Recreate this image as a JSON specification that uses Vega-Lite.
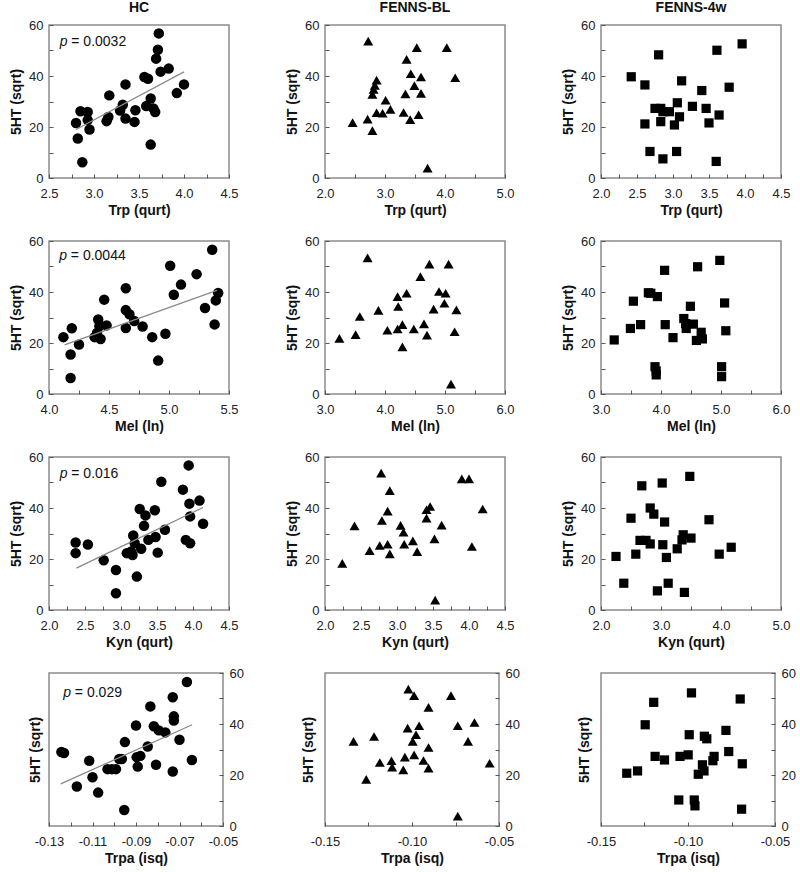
{
"$schema":"https://vega.github.io/schema/vega-lite/v6.json",
"background":"white",
"padding":{"left":8,"right":5,"top":0,"bottom":2},
"bounds":"flush",
"columns":3,
"spacing":{"row":63,"column":96},
"datasets":{
"pts":[
{"g":"HC","v":"Trp","x":2.80,"y":21.6},{"g":"HC","v":"Trp","x":2.85,"y":26.2},{"g":"HC","v":"Trp","x":2.93,"y":25.9},{"g":"HC","v":"Trp","x":2.93,"y":22.7},{"g":"HC","v":"Trp","x":2.95,"y":19.0},{"g":"HC","v":"Trp","x":2.82,"y":15.5},{"g":"HC","v":"Trp","x":2.87,"y":6.2},{"g":"HC","v":"Trp","x":3.14,"y":22.3},{"g":"HC","v":"Trp","x":3.16,"y":23.9},{"g":"HC","v":"Trp","x":3.17,"y":32.4},{"g":"HC","v":"Trp","x":3.29,"y":26.5},{"g":"HC","v":"Trp","x":3.32,"y":28.7},{"g":"HC","v":"Trp","x":3.35,"y":23.3},{"g":"HC","v":"Trp","x":3.35,"y":36.7},{"g":"HC","v":"Trp","x":3.45,"y":22.0},{"g":"HC","v":"Trp","x":3.46,"y":26.6},{"g":"HC","v":"Trp","x":3.56,"y":39.6},{"g":"HC","v":"Trp","x":3.60,"y":38.9},{"g":"HC","v":"Trp","x":3.58,"y":28.2},{"g":"HC","v":"Trp","x":3.63,"y":31.2},{"g":"HC","v":"Trp","x":3.63,"y":13.1},{"g":"HC","v":"Trp","x":3.66,"y":27.3},{"g":"HC","v":"Trp","x":3.68,"y":25.9},{"g":"HC","v":"Trp","x":3.69,"y":46.8},{"g":"HC","v":"Trp","x":3.71,"y":50.3},{"g":"HC","v":"Trp","x":3.72,"y":56.7},{"g":"HC","v":"Trp","x":3.74,"y":41.7},{"g":"HC","v":"Trp","x":3.83,"y":42.9},{"g":"HC","v":"Trp","x":3.92,"y":33.3},{"g":"HC","v":"Trp","x":4.00,"y":36.7},
{"g":"BL","v":"Trp","x":2.46,"y":21.7},{"g":"BL","v":"Trp","x":2.72,"y":53.7},{"g":"BL","v":"Trp","x":2.71,"y":23.1},{"g":"BL","v":"Trp","x":2.79,"y":18.6},{"g":"BL","v":"Trp","x":2.79,"y":32.8},{"g":"BL","v":"Trp","x":2.81,"y":34.7},{"g":"BL","v":"Trp","x":2.83,"y":36.3},{"g":"BL","v":"Trp","x":2.86,"y":38.4},{"g":"BL","v":"Trp","x":2.86,"y":25.6},{"g":"BL","v":"Trp","x":2.96,"y":25.4},{"g":"BL","v":"Trp","x":3.01,"y":30.5},{"g":"BL","v":"Trp","x":3.09,"y":26.9},{"g":"BL","v":"Trp","x":3.31,"y":25.7},{"g":"BL","v":"Trp","x":3.34,"y":33.0},{"g":"BL","v":"Trp","x":3.36,"y":46.5},{"g":"BL","v":"Trp","x":3.42,"y":22.9},{"g":"BL","v":"Trp","x":3.43,"y":40.9},{"g":"BL","v":"Trp","x":3.49,"y":36.2},{"g":"BL","v":"Trp","x":3.53,"y":51.1},{"g":"BL","v":"Trp","x":3.56,"y":24.8},{"g":"BL","v":"Trp","x":3.60,"y":39.6},{"g":"BL","v":"Trp","x":3.60,"y":33.2},{"g":"BL","v":"Trp","x":3.71,"y":3.9},{"g":"BL","v":"Trp","x":4.03,"y":51.1},{"g":"BL","v":"Trp","x":4.17,"y":39.3},
{"g":"W4","v":"Trp","x":2.42,"y":39.7},{"g":"W4","v":"Trp","x":2.61,"y":36.5},{"g":"W4","v":"Trp","x":2.61,"y":21.2},{"g":"W4","v":"Trp","x":2.68,"y":10.4},{"g":"W4","v":"Trp","x":2.80,"y":48.3},{"g":"W4","v":"Trp","x":2.75,"y":27.3},{"g":"W4","v":"Trp","x":2.83,"y":27.3},{"g":"W4","v":"Trp","x":2.86,"y":26.0},{"g":"W4","v":"Trp","x":2.83,"y":22.1},{"g":"W4","v":"Trp","x":2.86,"y":7.5},{"g":"W4","v":"Trp","x":2.95,"y":26.0},{"g":"W4","v":"Trp","x":3.02,"y":20.8},{"g":"W4","v":"Trp","x":3.05,"y":10.4},{"g":"W4","v":"Trp","x":3.06,"y":29.5},{"g":"W4","v":"Trp","x":3.09,"y":24.0},{"g":"W4","v":"Trp","x":3.12,"y":38.1},{"g":"W4","v":"Trp","x":3.27,"y":28.1},{"g":"W4","v":"Trp","x":3.40,"y":34.3},{"g":"W4","v":"Trp","x":3.46,"y":27.3},{"g":"W4","v":"Trp","x":3.50,"y":21.6},{"g":"W4","v":"Trp","x":3.61,"y":50.1},{"g":"W4","v":"Trp","x":3.60,"y":6.5},{"g":"W4","v":"Trp","x":3.64,"y":24.7},{"g":"W4","v":"Trp","x":3.78,"y":35.6},{"g":"W4","v":"Trp","x":3.96,"y":52.6},
{"g":"HC","v":"Mel","x":4.12,"y":22.3},{"g":"HC","v":"Mel","x":4.18,"y":15.5},{"g":"HC","v":"Mel","x":4.18,"y":6.3},{"g":"HC","v":"Mel","x":4.19,"y":25.8},{"g":"HC","v":"Mel","x":4.25,"y":19.4},{"g":"HC","v":"Mel","x":4.38,"y":22.3},{"g":"HC","v":"Mel","x":4.40,"y":23.9},{"g":"HC","v":"Mel","x":4.41,"y":29.2},{"g":"HC","v":"Mel","x":4.43,"y":21.6},{"g":"HC","v":"Mel","x":4.42,"y":26.6},{"g":"HC","v":"Mel","x":4.46,"y":37.0},{"g":"HC","v":"Mel","x":4.48,"y":26.9},{"g":"HC","v":"Mel","x":4.64,"y":41.5},{"g":"HC","v":"Mel","x":4.64,"y":32.9},{"g":"HC","v":"Mel","x":4.64,"y":25.9},{"g":"HC","v":"Mel","x":4.67,"y":31.3},{"g":"HC","v":"Mel","x":4.71,"y":28.6},{"g":"HC","v":"Mel","x":4.78,"y":26.5},{"g":"HC","v":"Mel","x":4.86,"y":22.3},{"g":"HC","v":"Mel","x":4.91,"y":13.1},{"g":"HC","v":"Mel","x":4.97,"y":23.6},{"g":"HC","v":"Mel","x":5.01,"y":50.3},{"g":"HC","v":"Mel","x":5.04,"y":38.9},{"g":"HC","v":"Mel","x":5.10,"y":42.9},{"g":"HC","v":"Mel","x":5.23,"y":47.0},{"g":"HC","v":"Mel","x":5.30,"y":33.7},{"g":"HC","v":"Mel","x":5.36,"y":56.6},{"g":"HC","v":"Mel","x":5.38,"y":27.3},{"g":"HC","v":"Mel","x":5.39,"y":36.7},{"g":"HC","v":"Mel","x":5.41,"y":39.6},
{"g":"BL","v":"Mel","x":3.24,"y":21.8},{"g":"BL","v":"Mel","x":3.51,"y":23.3},{"g":"BL","v":"Mel","x":3.58,"y":30.4},{"g":"BL","v":"Mel","x":3.71,"y":53.4},{"g":"BL","v":"Mel","x":3.89,"y":32.8},{"g":"BL","v":"Mel","x":4.04,"y":25.0},{"g":"BL","v":"Mel","x":4.21,"y":38.2},{"g":"BL","v":"Mel","x":4.22,"y":34.3},{"g":"BL","v":"Mel","x":4.21,"y":25.5},{"g":"BL","v":"Mel","x":4.29,"y":27.2},{"g":"BL","v":"Mel","x":4.29,"y":18.5},{"g":"BL","v":"Mel","x":4.36,"y":39.5},{"g":"BL","v":"Mel","x":4.48,"y":25.5},{"g":"BL","v":"Mel","x":4.59,"y":46.0},{"g":"BL","v":"Mel","x":4.65,"y":27.5},{"g":"BL","v":"Mel","x":4.70,"y":23.1},{"g":"BL","v":"Mel","x":4.74,"y":50.9},{"g":"BL","v":"Mel","x":4.81,"y":33.3},{"g":"BL","v":"Mel","x":4.90,"y":40.2},{"g":"BL","v":"Mel","x":5.01,"y":39.5},{"g":"BL","v":"Mel","x":4.99,"y":35.6},{"g":"BL","v":"Mel","x":5.06,"y":50.9},{"g":"BL","v":"Mel","x":5.16,"y":24.4},{"g":"BL","v":"Mel","x":5.19,"y":33.0},{"g":"BL","v":"Mel","x":5.10,"y":3.9},
{"g":"W4","v":"Mel","x":3.22,"y":21.2},{"g":"W4","v":"Mel","x":3.49,"y":25.7},{"g":"W4","v":"Mel","x":3.54,"y":36.4},{"g":"W4","v":"Mel","x":3.66,"y":27.2},{"g":"W4","v":"Mel","x":3.79,"y":39.7},{"g":"W4","v":"Mel","x":3.83,"y":39.5},{"g":"W4","v":"Mel","x":3.94,"y":38.2},{"g":"W4","v":"Mel","x":3.90,"y":10.7},{"g":"W4","v":"Mel","x":3.92,"y":9.0},{"g":"W4","v":"Mel","x":3.92,"y":7.5},{"g":"W4","v":"Mel","x":4.06,"y":48.5},{"g":"W4","v":"Mel","x":4.07,"y":27.2},{"g":"W4","v":"Mel","x":4.20,"y":22.1},{"g":"W4","v":"Mel","x":4.38,"y":29.6},{"g":"W4","v":"Mel","x":4.41,"y":27.6},{"g":"W4","v":"Mel","x":4.42,"y":25.7},{"g":"W4","v":"Mel","x":4.49,"y":34.4},{"g":"W4","v":"Mel","x":4.54,"y":27.4},{"g":"W4","v":"Mel","x":4.61,"y":49.9},{"g":"W4","v":"Mel","x":4.59,"y":21.0},{"g":"W4","v":"Mel","x":4.67,"y":24.2},{"g":"W4","v":"Mel","x":4.69,"y":21.6},{"g":"W4","v":"Mel","x":4.98,"y":52.4},{"g":"W4","v":"Mel","x":5.01,"y":10.7},{"g":"W4","v":"Mel","x":5.01,"y":6.8},{"g":"W4","v":"Mel","x":5.06,"y":35.7},{"g":"W4","v":"Mel","x":5.08,"y":24.8},
{"g":"HC","v":"Kyn","x":2.37,"y":26.5},{"g":"HC","v":"Kyn","x":2.37,"y":22.3},{"g":"HC","v":"Kyn","x":2.54,"y":25.7},{"g":"HC","v":"Kyn","x":2.76,"y":19.5},{"g":"HC","v":"Kyn","x":2.93,"y":15.7},{"g":"HC","v":"Kyn","x":2.93,"y":6.6},{"g":"HC","v":"Kyn","x":3.08,"y":22.3},{"g":"HC","v":"Kyn","x":3.14,"y":22.9},{"g":"HC","v":"Kyn","x":3.16,"y":21.6},{"g":"HC","v":"Kyn","x":3.17,"y":29.2},{"g":"HC","v":"Kyn","x":3.19,"y":26.2},{"g":"HC","v":"Kyn","x":3.22,"y":13.1},{"g":"HC","v":"Kyn","x":3.26,"y":39.6},{"g":"HC","v":"Kyn","x":3.28,"y":24.0},{"g":"HC","v":"Kyn","x":3.32,"y":33.0},{"g":"HC","v":"Kyn","x":3.34,"y":37.1},{"g":"HC","v":"Kyn","x":3.38,"y":27.5},{"g":"HC","v":"Kyn","x":3.47,"y":39.1},{"g":"HC","v":"Kyn","x":3.48,"y":28.6},{"g":"HC","v":"Kyn","x":3.51,"y":22.5},{"g":"HC","v":"Kyn","x":3.56,"y":50.3},{"g":"HC","v":"Kyn","x":3.61,"y":31.5},{"g":"HC","v":"Kyn","x":3.86,"y":47.2},{"g":"HC","v":"Kyn","x":3.90,"y":27.5},{"g":"HC","v":"Kyn","x":3.94,"y":56.7},{"g":"HC","v":"Kyn","x":3.95,"y":41.7},{"g":"HC","v":"Kyn","x":3.96,"y":36.7},{"g":"HC","v":"Kyn","x":3.96,"y":26.2},{"g":"HC","v":"Kyn","x":4.09,"y":42.9},{"g":"HC","v":"Kyn","x":4.14,"y":33.8},
{"g":"BL","v":"Kyn","x":2.24,"y":18.3},{"g":"BL","v":"Kyn","x":2.41,"y":33.0},{"g":"BL","v":"Kyn","x":2.62,"y":23.3},{"g":"BL","v":"Kyn","x":2.76,"y":25.3},{"g":"BL","v":"Kyn","x":2.78,"y":53.7},{"g":"BL","v":"Kyn","x":2.79,"y":35.1},{"g":"BL","v":"Kyn","x":2.87,"y":38.8},{"g":"BL","v":"Kyn","x":2.87,"y":25.8},{"g":"BL","v":"Kyn","x":2.90,"y":46.8},{"g":"BL","v":"Kyn","x":2.90,"y":22.0},{"g":"BL","v":"Kyn","x":3.05,"y":33.2},{"g":"BL","v":"Kyn","x":3.09,"y":30.5},{"g":"BL","v":"Kyn","x":3.10,"y":25.8},{"g":"BL","v":"Kyn","x":3.22,"y":27.1},{"g":"BL","v":"Kyn","x":3.28,"y":22.9},{"g":"BL","v":"Kyn","x":3.41,"y":39.3},{"g":"BL","v":"Kyn","x":3.46,"y":40.6},{"g":"BL","v":"Kyn","x":3.41,"y":36.0},{"g":"BL","v":"Kyn","x":3.52,"y":27.9},{"g":"BL","v":"Kyn","x":3.53,"y":3.9},{"g":"BL","v":"Kyn","x":3.62,"y":33.3},{"g":"BL","v":"Kyn","x":3.90,"y":51.4},{"g":"BL","v":"Kyn","x":4.00,"y":51.4},{"g":"BL","v":"Kyn","x":4.04,"y":24.9},{"g":"BL","v":"Kyn","x":4.19,"y":39.6},
{"g":"W4","v":"Kyn","x":2.25,"y":21.0},{"g":"W4","v":"Kyn","x":2.38,"y":10.5},{"g":"W4","v":"Kyn","x":2.50,"y":36.0},{"g":"W4","v":"Kyn","x":2.58,"y":21.9},{"g":"W4","v":"Kyn","x":2.65,"y":27.3},{"g":"W4","v":"Kyn","x":2.68,"y":48.7},{"g":"W4","v":"Kyn","x":2.75,"y":27.3},{"g":"W4","v":"Kyn","x":2.82,"y":25.9},{"g":"W4","v":"Kyn","x":2.82,"y":40.0},{"g":"W4","v":"Kyn","x":2.88,"y":37.6},{"g":"W4","v":"Kyn","x":2.94,"y":7.5},{"g":"W4","v":"Kyn","x":3.02,"y":49.8},{"g":"W4","v":"Kyn","x":3.03,"y":25.6},{"g":"W4","v":"Kyn","x":3.06,"y":34.5},{"g":"W4","v":"Kyn","x":3.09,"y":20.6},{"g":"W4","v":"Kyn","x":3.12,"y":10.5},{"g":"W4","v":"Kyn","x":3.27,"y":24.0},{"g":"W4","v":"Kyn","x":3.35,"y":27.5},{"g":"W4","v":"Kyn","x":3.37,"y":29.5},{"g":"W4","v":"Kyn","x":3.39,"y":6.9},{"g":"W4","v":"Kyn","x":3.48,"y":52.4},{"g":"W4","v":"Kyn","x":3.50,"y":28.2},{"g":"W4","v":"Kyn","x":3.80,"y":35.4},{"g":"W4","v":"Kyn","x":3.97,"y":21.9},{"g":"W4","v":"Kyn","x":4.17,"y":24.6},
{"g":"HC","v":"Trpa","x":-0.1243,"y":29.0},{"g":"HC","v":"Trpa","x":-0.1231,"y":28.6},{"g":"HC","v":"Trpa","x":-0.1172,"y":15.5},{"g":"HC","v":"Trpa","x":-0.1115,"y":25.6},{"g":"HC","v":"Trpa","x":-0.1100,"y":19.1},{"g":"HC","v":"Trpa","x":-0.1074,"y":13.1},{"g":"HC","v":"Trpa","x":-0.1031,"y":22.3},{"g":"HC","v":"Trpa","x":-0.1011,"y":22.3},{"g":"HC","v":"Trpa","x":-0.0992,"y":22.3},{"g":"HC","v":"Trpa","x":-0.0977,"y":26.3},{"g":"HC","v":"Trpa","x":-0.0965,"y":26.3},{"g":"HC","v":"Trpa","x":-0.0954,"y":6.3},{"g":"HC","v":"Trpa","x":-0.0951,"y":32.9},{"g":"HC","v":"Trpa","x":-0.0900,"y":39.4},{"g":"HC","v":"Trpa","x":-0.0897,"y":27.0},{"g":"HC","v":"Trpa","x":-0.0892,"y":23.3},{"g":"HC","v":"Trpa","x":-0.0880,"y":27.5},{"g":"HC","v":"Trpa","x":-0.0846,"y":31.2},{"g":"HC","v":"Trpa","x":-0.0834,"y":46.9},{"g":"HC","v":"Trpa","x":-0.0818,"y":39.1},{"g":"HC","v":"Trpa","x":-0.0808,"y":24.0},{"g":"HC","v":"Trpa","x":-0.0795,"y":37.5},{"g":"HC","v":"Trpa","x":-0.0765,"y":36.7},{"g":"HC","v":"Trpa","x":-0.0731,"y":50.5},{"g":"HC","v":"Trpa","x":-0.0726,"y":43.0},{"g":"HC","v":"Trpa","x":-0.0726,"y":41.4},{"g":"HC","v":"Trpa","x":-0.0731,"y":21.4},{"g":"HC","v":"Trpa","x":-0.0700,"y":33.8},{"g":"HC","v":"Trpa","x":-0.0666,"y":56.5},{"g":"HC","v":"Trpa","x":-0.0643,"y":25.9},
{"g":"BL","v":"Trpa","x":-0.1336,"y":33.2},{"g":"BL","v":"Trpa","x":-0.1263,"y":18.3},{"g":"BL","v":"Trpa","x":-0.1218,"y":35.1},{"g":"BL","v":"Trpa","x":-0.1185,"y":24.9},{"g":"BL","v":"Trpa","x":-0.1118,"y":25.6},{"g":"BL","v":"Trpa","x":-0.1114,"y":23.1},{"g":"BL","v":"Trpa","x":-0.1050,"y":22.0},{"g":"BL","v":"Trpa","x":-0.1041,"y":27.0},{"g":"BL","v":"Trpa","x":-0.1021,"y":53.7},{"g":"BL","v":"Trpa","x":-0.1025,"y":38.4},{"g":"BL","v":"Trpa","x":-0.0988,"y":51.1},{"g":"BL","v":"Trpa","x":-0.0996,"y":33.2},{"g":"BL","v":"Trpa","x":-0.0988,"y":27.9},{"g":"BL","v":"Trpa","x":-0.0977,"y":35.8},{"g":"BL","v":"Trpa","x":-0.0959,"y":39.3},{"g":"BL","v":"Trpa","x":-0.0934,"y":25.7},{"g":"BL","v":"Trpa","x":-0.0905,"y":46.5},{"g":"BL","v":"Trpa","x":-0.0905,"y":30.8},{"g":"BL","v":"Trpa","x":-0.0905,"y":22.7},{"g":"BL","v":"Trpa","x":-0.0776,"y":51.1},{"g":"BL","v":"Trpa","x":-0.0737,"y":39.3},{"g":"BL","v":"Trpa","x":-0.0737,"y":3.9},{"g":"BL","v":"Trpa","x":-0.0678,"y":33.2},{"g":"BL","v":"Trpa","x":-0.0641,"y":40.6},{"g":"BL","v":"Trpa","x":-0.0554,"y":24.6},
{"g":"W4","v":"Trpa","x":-0.1352,"y":20.7},{"g":"W4","v":"Trpa","x":-0.1290,"y":21.6},{"g":"W4","v":"Trpa","x":-0.1246,"y":39.7},{"g":"W4","v":"Trpa","x":-0.1197,"y":48.5},{"g":"W4","v":"Trpa","x":-0.1189,"y":27.3},{"g":"W4","v":"Trpa","x":-0.1135,"y":25.9},{"g":"W4","v":"Trpa","x":-0.1053,"y":10.2},{"g":"W4","v":"Trpa","x":-0.1046,"y":27.3},{"g":"W4","v":"Trpa","x":-0.0999,"y":27.9},{"g":"W4","v":"Trpa","x":-0.0993,"y":35.8},{"g":"W4","v":"Trpa","x":-0.0980,"y":52.2},{"g":"W4","v":"Trpa","x":-0.0964,"y":10.2},{"g":"W4","v":"Trpa","x":-0.0960,"y":7.9},{"g":"W4","v":"Trpa","x":-0.0941,"y":20.3},{"g":"W4","v":"Trpa","x":-0.0917,"y":24.0},{"g":"W4","v":"Trpa","x":-0.0908,"y":21.6},{"g":"W4","v":"Trpa","x":-0.0906,"y":35.2},{"g":"W4","v":"Trpa","x":-0.0892,"y":34.2},{"g":"W4","v":"Trpa","x":-0.0857,"y":25.6},{"g":"W4","v":"Trpa","x":-0.0850,"y":27.3},{"g":"W4","v":"Trpa","x":-0.0782,"y":37.5},{"g":"W4","v":"Trpa","x":-0.0766,"y":29.2},{"g":"W4","v":"Trpa","x":-0.0700,"y":49.8},{"g":"W4","v":"Trpa","x":-0.0692,"y":6.6},{"g":"W4","v":"Trpa","x":-0.0688,"y":24.4}
],
"fit":[
{"v":"Trp","x":2.80,"y":19.0},{"v":"Trp","x":4.00,"y":41.6},
{"v":"Mel","x":4.13,"y":19.3},{"v":"Mel","x":5.40,"y":40.6},
{"v":"Kyn","x":2.38,"y":16.4},{"v":"Kyn","x":4.14,"y":40.2},
{"v":"Trpa","x":-0.1246,"y":16.5},{"v":"Trpa","x":-0.0642,"y":39.7}
],
"pv":[
{"v":"Trp","x":2.62,"y":53.5,"t":"= 0.0032"},
{"v":"Mel","x":4.086,"y":54.0,"t":"= 0.0044"},
{"v":"Kyn","x":2.15,"y":53.3,"t":"= 0.016"},
{"v":"Trpa","x":-0.1234,"y":52.2,"t":"= 0.029"}
]
},
"concat":[
{"width":180,"height":153,"title":"HC",
 "encoding":{"x":{"field":"x","type":"quantitative","title":"Trp (qurt)","scale":{"domain":[2.5,4.5],"nice":false,"zero":false},"axis":{"values":[2.5,2.75,3,3.25,3.5,3.75,4,4.25,4.5],"format":".1f","labelExpr":"round(datum.value*100)%50==0?datum.label:''"}},
  "y":{"field":"y","type":"quantitative","title":"5HT (sqrt)","scale":{"domain":[0,60],"nice":false,"zero":false},"axis":{"values":[0,10,20,30,40,50,60],"labelExpr":"datum.value%20==0?datum.label:''"}}},
 "layer":[
 {"data":{"name":"pts"},"transform":[{"filter":"datum.g==='HC'&&datum.v==='Trp'"}],"mark":{"type":"point","shape":"circle","filled":true,"size":110,"color":"#000","opacity":1}},
 {"data":{"name":"fit"},"transform":[{"filter":"datum.v==='Trp'"}],"mark":{"type":"line","color":"#8a8a8a","strokeWidth":1.3}},
 {"data":{"name":"pv"},"transform":[{"filter":"datum.v==='Trp'"}],"mark":{"type":"text","align":"left","baseline":"middle","fontSize":14,"fontStyle":"italic","color":"#111"},"encoding":{"text":{"value":"p"}}},
 {"data":{"name":"pv"},"transform":[{"filter":"datum.v==='Trp'"}],"mark":{"type":"text","align":"left","baseline":"middle","fontSize":14,"dx":11.5,"color":"#111"},"encoding":{"text":{"field":"t"}}}
]},
{"width":180,"height":153,"title":"FENNS-BL","data":{"name":"pts"},"transform":[{"filter":"datum.g==='BL'&&datum.v==='Trp'"}],"mark":{"type":"point","shape":"triangle-up","filled":true,"size":100,"color":"#000","opacity":1},
  "encoding":{"x":{"field":"x","type":"quantitative","title":"Trp (qurt)","scale":{"domain":[2,5],"nice":false,"zero":false},"axis":{"values":[2,2.5,3,3.5,4,4.5,5],"format":".1f","labelExpr":"round(datum.value*100)%100==0?datum.label:''"}},
  "y":{"field":"y","type":"quantitative","title":"5HT (sqrt)","scale":{"domain":[0,60],"nice":false,"zero":false},"axis":{"values":[0,10,20,30,40,50,60],"labelExpr":"datum.value%20==0?datum.label:''"}}}},
{"width":180,"height":153,"title":"FENNS-4w","data":{"name":"pts"},"transform":[{"filter":"datum.g==='W4'&&datum.v==='Trp'"}],"mark":{"type":"point","shape":"square","filled":true,"size":85,"color":"#000","opacity":1},
  "encoding":{"x":{"field":"x","type":"quantitative","title":"Trp (qurt)","scale":{"domain":[2,4.5],"nice":false,"zero":false},"axis":{"values":[2,2.25,2.5,2.75,3,3.25,3.5,3.75,4,4.25,4.5],"format":".1f","labelExpr":"round(datum.value*100)%50==0?datum.label:''"}},
  "y":{"field":"y","type":"quantitative","title":"5HT (sqrt)","scale":{"domain":[0,60],"nice":false,"zero":false},"axis":{"values":[0,10,20,30,40,50,60],"labelExpr":"datum.value%20==0?datum.label:''"}}}},
{"width":180,"height":153,
 "encoding":{"x":{"field":"x","type":"quantitative","title":"Mel (ln)","scale":{"domain":[4,5.5],"nice":false,"zero":false},"axis":{"values":[4,4.25,4.5,4.75,5,5.25,5.5],"format":".1f","labelExpr":"round(datum.value*100)%50==0?datum.label:''"}},
  "y":{"field":"y","type":"quantitative","title":"5HT (sqrt)","scale":{"domain":[0,60],"nice":false,"zero":false},"axis":{"values":[0,10,20,30,40,50,60],"labelExpr":"datum.value%20==0?datum.label:''"}}},
 "layer":[
 {"data":{"name":"pts"},"transform":[{"filter":"datum.g==='HC'&&datum.v==='Mel'"}],"mark":{"type":"point","shape":"circle","filled":true,"size":110,"color":"#000","opacity":1}},
 {"data":{"name":"fit"},"transform":[{"filter":"datum.v==='Mel'"}],"mark":{"type":"line","color":"#8a8a8a","strokeWidth":1.3}},
 {"data":{"name":"pv"},"transform":[{"filter":"datum.v==='Mel'"}],"mark":{"type":"text","align":"left","baseline":"middle","fontSize":14,"fontStyle":"italic","color":"#111"},"encoding":{"text":{"value":"p"}}},
 {"data":{"name":"pv"},"transform":[{"filter":"datum.v==='Mel'"}],"mark":{"type":"text","align":"left","baseline":"middle","fontSize":14,"dx":11.5,"color":"#111"},"encoding":{"text":{"field":"t"}}}
]},
{"width":180,"height":153,"data":{"name":"pts"},"transform":[{"filter":"datum.g==='BL'&&datum.v==='Mel'"}],"mark":{"type":"point","shape":"triangle-up","filled":true,"size":100,"color":"#000","opacity":1},
  "encoding":{"x":{"field":"x","type":"quantitative","title":"Mel (ln)","scale":{"domain":[3,6],"nice":false,"zero":false},"axis":{"values":[3,3.5,4,4.5,5,5.5,6],"format":".1f","labelExpr":"round(datum.value*100)%100==0?datum.label:''"}},
  "y":{"field":"y","type":"quantitative","title":"5HT (sqrt)","scale":{"domain":[0,60],"nice":false,"zero":false},"axis":{"values":[0,10,20,30,40,50,60],"labelExpr":"datum.value%20==0?datum.label:''"}}}},
{"width":180,"height":153,"data":{"name":"pts"},"transform":[{"filter":"datum.g==='W4'&&datum.v==='Mel'"}],"mark":{"type":"point","shape":"square","filled":true,"size":85,"color":"#000","opacity":1},
  "encoding":{"x":{"field":"x","type":"quantitative","title":"Mel (ln)","scale":{"domain":[3,6],"nice":false,"zero":false},"axis":{"values":[3,3.5,4,4.5,5,5.5,6],"format":".1f","labelExpr":"round(datum.value*100)%100==0?datum.label:''"}},
  "y":{"field":"y","type":"quantitative","title":"5HT (sqrt)","scale":{"domain":[0,60],"nice":false,"zero":false},"axis":{"values":[0,10,20,30,40,50,60],"labelExpr":"datum.value%20==0?datum.label:''"}}}},
{"width":180,"height":153,
 "encoding":{"x":{"field":"x","type":"quantitative","title":"Kyn (qurt)","scale":{"domain":[2,4.5],"nice":false,"zero":false},"axis":{"values":[2,2.25,2.5,2.75,3,3.25,3.5,3.75,4,4.25,4.5],"format":".1f","labelExpr":"round(datum.value*100)%50==0?datum.label:''"}},
  "y":{"field":"y","type":"quantitative","title":"5HT (sqrt)","scale":{"domain":[0,60],"nice":false,"zero":false},"axis":{"values":[0,10,20,30,40,50,60],"labelExpr":"datum.value%20==0?datum.label:''"}}},
 "layer":[
 {"data":{"name":"pts"},"transform":[{"filter":"datum.g==='HC'&&datum.v==='Kyn'"}],"mark":{"type":"point","shape":"circle","filled":true,"size":110,"color":"#000","opacity":1}},
 {"data":{"name":"fit"},"transform":[{"filter":"datum.v==='Kyn'"}],"mark":{"type":"line","color":"#8a8a8a","strokeWidth":1.3}},
 {"data":{"name":"pv"},"transform":[{"filter":"datum.v==='Kyn'"}],"mark":{"type":"text","align":"left","baseline":"middle","fontSize":14,"fontStyle":"italic","color":"#111"},"encoding":{"text":{"value":"p"}}},
 {"data":{"name":"pv"},"transform":[{"filter":"datum.v==='Kyn'"}],"mark":{"type":"text","align":"left","baseline":"middle","fontSize":14,"dx":11.5,"color":"#111"},"encoding":{"text":{"field":"t"}}}
]},
{"width":180,"height":153,"data":{"name":"pts"},"transform":[{"filter":"datum.g==='BL'&&datum.v==='Kyn'"}],"mark":{"type":"point","shape":"triangle-up","filled":true,"size":100,"color":"#000","opacity":1},
  "encoding":{"x":{"field":"x","type":"quantitative","title":"Kyn (qurt)","scale":{"domain":[2,4.5],"nice":false,"zero":false},"axis":{"values":[2,2.25,2.5,2.75,3,3.25,3.5,3.75,4,4.25,4.5],"format":".1f","labelExpr":"round(datum.value*100)%50==0?datum.label:''"}},
  "y":{"field":"y","type":"quantitative","title":"5HT (sqrt)","scale":{"domain":[0,60],"nice":false,"zero":false},"axis":{"values":[0,10,20,30,40,50,60],"labelExpr":"datum.value%20==0?datum.label:''"}}}},
{"width":180,"height":153,"data":{"name":"pts"},"transform":[{"filter":"datum.g==='W4'&&datum.v==='Kyn'"}],"mark":{"type":"point","shape":"square","filled":true,"size":85,"color":"#000","opacity":1},
  "encoding":{"x":{"field":"x","type":"quantitative","title":"Kyn (qurt)","scale":{"domain":[2,5],"nice":false,"zero":false},"axis":{"values":[2,2.5,3,3.5,4,4.5,5],"format":".1f","labelExpr":"round(datum.value*100)%100==0?datum.label:''"}},
  "y":{"field":"y","type":"quantitative","title":"5HT (sqrt)","scale":{"domain":[0,60],"nice":false,"zero":false},"axis":{"values":[0,10,20,30,40,50,60],"labelExpr":"datum.value%20==0?datum.label:''"}}}},
{"width":174,"height":153,
 "encoding":{"x":{"field":"x","type":"quantitative","title":"Trpa (isq)","scale":{"domain":[-0.13,-0.05],"nice":false,"zero":false},"axis":{"values":[-0.13,-0.12,-0.11,-0.1,-0.09,-0.08,-0.07,-0.06,-0.05],"format":".2f","labelExpr":"abs(round(datum.value*100))%2==1?replace(datum.label,'−','-'):''"}},
  "y":{"field":"y","type":"quantitative","title":"5HT (sqrt)","scale":{"domain":[0,60],"nice":false,"zero":false},"axis":{"orient":"right","values":[0,10,20,30,40,50,60],"labelExpr":"datum.value%20==0?datum.label:''","titleAngle":270,"titleX":-181,"titleY":76.5,"titleAlign":"center","titleBaseline":"bottom"}}},
 "layer":[
 {"data":{"name":"pts"},"transform":[{"filter":"datum.g==='HC'&&datum.v==='Trpa'"}],"mark":{"type":"point","shape":"circle","filled":true,"size":110,"color":"#000","opacity":1}},
 {"data":{"name":"fit"},"transform":[{"filter":"datum.v==='Trpa'"}],"mark":{"type":"line","color":"#8a8a8a","strokeWidth":1.3}},
 {"data":{"name":"pv"},"transform":[{"filter":"datum.v==='Trpa'"}],"mark":{"type":"text","align":"left","baseline":"middle","fontSize":14,"fontStyle":"italic","color":"#111"},"encoding":{"text":{"value":"p"}}},
 {"data":{"name":"pv"},"transform":[{"filter":"datum.v==='Trpa'"}],"mark":{"type":"text","align":"left","baseline":"middle","fontSize":14,"dx":11.5,"color":"#111"},"encoding":{"text":{"field":"t"}}}
]},
{"width":174,"height":153,"data":{"name":"pts"},"transform":[{"filter":"datum.g==='BL'&&datum.v==='Trpa'"}],"mark":{"type":"point","shape":"triangle-up","filled":true,"size":100,"color":"#000","opacity":1},
  "encoding":{"x":{"field":"x","type":"quantitative","title":"Trpa (isq)","scale":{"domain":[-0.15,-0.05],"nice":false,"zero":false},"axis":{"values":[-0.15,-0.125,-0.1,-0.075,-0.05],"format":".2f","labelExpr":"round(datum.value*1000)%50==0?replace(datum.label,'−','-'):''"}},
  "y":{"field":"y","type":"quantitative","title":"5HT (sqrt)","scale":{"domain":[0,60],"nice":false,"zero":false},"axis":{"orient":"right","values":[0,10,20,30,40,50,60],"labelExpr":"datum.value%20==0?datum.label:''","titleAngle":270,"titleX":-184,"titleY":76.5,"titleAlign":"center","titleBaseline":"bottom"}}}},
{"width":174,"height":153,"data":{"name":"pts"},"transform":[{"filter":"datum.g==='W4'&&datum.v==='Trpa'"}],"mark":{"type":"point","shape":"square","filled":true,"size":85,"color":"#000","opacity":1},
  "encoding":{"x":{"field":"x","type":"quantitative","title":"Trpa (isq)","scale":{"domain":[-0.15,-0.05],"nice":false,"zero":false},"axis":{"values":[-0.15,-0.125,-0.1,-0.075,-0.05],"format":".2f","labelExpr":"round(datum.value*1000)%50==0?replace(datum.label,'−','-'):''"}},
  "y":{"field":"y","type":"quantitative","title":"5HT (sqrt)","scale":{"domain":[0,60],"nice":false,"zero":false},"axis":{"orient":"right","values":[0,10,20,30,40,50,60],"labelExpr":"datum.value%20==0?datum.label:''","titleAngle":270,"titleX":-184,"titleY":76.5,"titleAlign":"center","titleBaseline":"bottom"}}}}
],
"config":{
 "font":"Liberation Sans",
 "view":{"stroke":"#8c8c8c","strokeWidth":1.5},
 "axis":{"domain":false,"grid":false,"tickSize":-4,"tickColor":"#555","tickWidth":1,"labelFont":"Liberation Sans","labelFontSize":13,"labelColor":"#222","labelPadding":10,"labelFlush":false,"labelOverlap":false,"titleFont":"Liberation Sans","titleFontSize":14,"titleFontWeight":"bold","titleColor":"#111","titlePadding":5},
 "axisX":{"labelPadding":13,"titlePadding":3},
 "title":{"font":"Liberation Sans","fontSize":14,"fontWeight":"bold","offset":4,"color":"#111","anchor":"middle"}
}
}
